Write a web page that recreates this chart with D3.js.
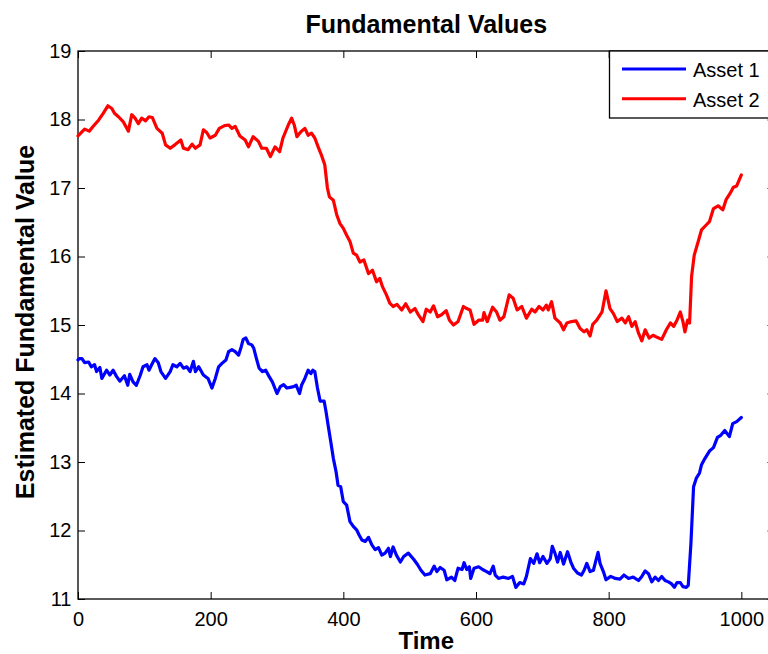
<!DOCTYPE html>
<html>
<head>
<meta charset="utf-8">
<script src="https://cdn.jsdelivr.net/npm/d3@7"></script>
<style>
  html, body { margin: 0; padding: 0; background: #fff; }
  svg { display: block; font-family: "Liberation Sans", Arial, Helvetica, sans-serif; }
</style>
</head>
<body>
<svg id="chart" width="768" height="654"></svg>
<script>
// ---- data ----
const chartTitle = "Fundamental Values";
const xLabel = "Time";
const yLabel = "Estimated Fundamental Value";
const seriesNames = ["Asset 1", "Asset 2"];
const xTicks = [0, 200, 400, 600, 800, 1000];
const yTicks = [11, 12, 13, 14, 15, 16, 17, 18, 19];

const asset1Time = [0,2,6,10,16,20,25,28,33,36,43,48,53,58,63,70,75,78,83,88,94,98,104,107,111,116,121,125,132,139,143,149,154,159,164,169,174,177,182,189,196,202,207,212,217,223,227,232,237,242,246,249,253,257,262,265,269,273,278,283,288,293,300,305,310,315,320,325,329,334,337,342,347,351,354,357,361,365,371,374,377,381,385,389,392,396,400,405,410,415,420,424,428,433,438,443,448,453,458,463,468,471,475,480,486,491,498,506,512,517,523,531,537,541,546,552,556,563,568,573,579,582,586,590,592,597,604,610,616,621,626,629,634,641,649,655,660,666,672,676,682,687,692,696,701,707,712,715,719,723,727,732,738,743,747,753,759,763,767,772,777,781,784,787,792,796,803,810,817,823,830,837,845,850,855,860,865,870,875,880,885,890,895,899,903,908,912,917,920,924,928,932,937,940,945,952,958,964,969,975,982,987,993,1000];
const asset1 = [14.49,14.51,14.51,14.45,14.46,14.39,14.42,14.32,14.38,14.22,14.34,14.27,14.34,14.25,14.18,14.26,14.12,14.28,14.17,14.12,14.27,14.39,14.42,14.34,14.42,14.51,14.45,14.32,14.22,14.32,14.42,14.39,14.44,14.37,14.39,14.32,14.47,14.32,14.39,14.27,14.22,14.08,14.22,14.39,14.44,14.49,14.61,14.64,14.61,14.56,14.68,14.79,14.81,14.73,14.71,14.66,14.51,14.37,14.32,14.34,14.25,14.17,14.00,14.10,14.13,14.08,14.09,14.10,14.12,14.00,14.12,14.22,14.34,14.29,14.34,14.32,14.08,13.89,13.89,13.73,13.54,13.30,13.05,12.86,12.66,12.64,12.42,12.37,12.13,12.06,12.01,11.93,11.86,11.84,11.90,11.79,11.72,11.75,11.64,11.67,11.74,11.62,11.76,11.64,11.54,11.62,11.67,11.58,11.50,11.42,11.35,11.37,11.48,11.40,11.46,11.42,11.28,11.32,11.27,11.45,11.43,11.53,11.43,11.47,11.30,11.45,11.47,11.43,11.40,11.37,11.48,11.35,11.30,11.32,11.30,11.33,11.17,11.24,11.22,11.33,11.59,11.52,11.66,11.53,11.62,11.52,11.59,11.77,11.67,11.54,11.68,11.51,11.69,11.54,11.45,11.38,11.35,11.42,11.52,11.40,11.42,11.57,11.68,11.52,11.40,11.28,11.33,11.30,11.29,11.35,11.30,11.32,11.27,11.33,11.41,11.37,11.25,11.32,11.27,11.33,11.27,11.25,11.22,11.17,11.24,11.24,11.18,11.17,11.20,11.81,12.64,12.76,12.84,12.96,13.05,13.16,13.21,13.36,13.39,13.46,13.37,13.56,13.59,13.65];

const asset2Time = [0,10,17,23,31,38,45,51,55,61,68,76,81,86,91,96,102,107,112,119,127,132,139,146,155,159,166,172,177,184,189,194,199,207,213,221,227,232,237,244,252,257,264,272,277,284,290,297,304,309,317,322,326,330,336,342,347,352,357,362,367,372,376,379,385,390,395,400,405,410,415,420,425,431,438,444,450,455,459,465,470,475,481,488,494,501,508,513,520,525,531,536,542,548,555,560,566,573,581,586,591,597,604,610,612,617,625,631,636,642,650,656,662,669,676,684,689,695,701,706,709,714,719,727,732,737,744,751,757,763,767,772,776,782,790,796,802,807,813,820,825,830,835,840,845,850,855,861,867,873,880,887,893,898,903,908,912,915,919,922,925,929,935,940,947,952,958,965,972,977,983,988,993,1000];
const asset2 = [17.76,17.86,17.83,17.90,17.99,18.09,18.20,18.16,18.09,18.04,17.97,17.83,18.07,18.02,17.94,18.02,17.98,18.04,18.03,17.87,17.80,17.63,17.58,17.63,17.70,17.58,17.56,17.64,17.58,17.63,17.85,17.81,17.73,17.77,17.87,17.91,17.92,17.87,17.90,17.76,17.70,17.60,17.75,17.68,17.58,17.58,17.46,17.60,17.53,17.73,17.92,18.02,17.92,17.75,17.82,17.87,17.77,17.80,17.73,17.60,17.48,17.34,17.00,16.87,16.82,16.61,16.48,16.41,16.31,16.22,16.05,16.02,15.92,15.95,15.75,15.80,15.63,15.68,15.56,15.44,15.32,15.27,15.30,15.22,15.31,15.19,15.24,15.15,15.05,15.23,15.19,15.28,15.12,15.15,15.21,15.07,15.00,15.05,15.27,15.24,15.22,15.01,15.07,15.07,15.18,15.05,15.26,15.19,15.07,15.12,15.44,15.39,15.22,15.27,15.10,15.23,15.19,15.27,15.22,15.29,15.22,15.34,15.10,15.03,14.93,15.03,15.05,15.06,14.95,14.90,14.93,14.84,15.01,15.07,15.19,15.50,15.24,15.17,15.05,15.10,15.03,15.12,14.98,15.05,14.88,14.77,14.93,14.81,14.85,14.82,14.79,14.93,15.03,14.98,15.07,15.19,15.05,14.90,15.07,15.03,15.71,16.02,16.22,16.39,16.46,16.51,16.70,16.74,16.68,16.83,16.92,17.01,17.03,17.19];

const seriesColors = ["#0000ff", "#ff0000"];

// ---- layout ----
const svg = d3.select("#chart");
const mLeft = 78, mRight = 774.5, mTop = 51, mBottom = 599;

const x = d3.scaleLinear().domain([0, 1050]).range([mLeft, mRight]);
const y = d3.scaleLinear().domain([11, 19]).range([mBottom, mTop]);

const fontTick = "20px";

// axes (ticks pointing inward, MATLAB style)
const gB = svg.append("g").attr("transform", `translate(0,${mBottom})`)
  .call(d3.axisBottom(x).tickValues(xTicks).tickSize(-7).tickSizeOuter(0).tickPadding(13).tickFormat(d3.format("d")));
const gT = svg.append("g").attr("transform", `translate(0,${mTop})`)
  .call(d3.axisTop(x).tickValues(xTicks).tickSize(-7).tickSizeOuter(0).tickFormat(""));
const gL = svg.append("g").attr("transform", `translate(${mLeft},0)`)
  .call(d3.axisLeft(y).tickValues(yTicks).tickSize(-7).tickSizeOuter(0).tickPadding(6.5).tickFormat(d3.format("d")));
const gR = svg.append("g").attr("transform", `translate(${mRight},0)`)
  .call(d3.axisRight(y).tickValues(yTicks).tickSize(-7).tickSizeOuter(0).tickFormat(""));

[gB, gT, gL, gR].forEach(g => {
  g.select(".domain").remove();
  g.selectAll(".tick line").attr("stroke", "#000").attr("stroke-width", 1);
  g.selectAll(".tick text").attr("fill", "#000").style("font-size", fontTick)
    .style("font-family", '"Liberation Sans", Arial, sans-serif');
});

// box
svg.append("rect")
  .attr("x", mLeft).attr("y", mTop)
  .attr("width", mRight - mLeft).attr("height", mBottom - mTop)
  .attr("fill", "none").attr("stroke", "#000").attr("stroke-width", 1.3);

// lines
const n1 = Math.min(asset1Time.length, asset1.length);
const n2 = Math.min(asset2Time.length, asset2.length);
const series = [
  d3.range(n1).map(i => [asset1Time[i], asset1[i]]),
  d3.range(n2).map(i => [asset2Time[i], asset2[i]])
];
const line = d3.line().x(d => x(d[0])).y(d => y(d[1]));
series.forEach((s, i) => {
  svg.append("path")
    .datum(s)
    .attr("d", line)
    .attr("fill", "none")
    .attr("stroke", seriesColors[i])
    .attr("stroke-width", 3.2)
    .attr("stroke-linejoin", "round")
    .attr("stroke-linecap", "round");
});

// legend
const lg = svg.append("g");
lg.append("rect")
  .attr("x", 609.5).attr("y", mTop)
  .attr("width", mRight - 609.5).attr("height", 67)
  .attr("fill", "#fff").attr("stroke", "#000").attr("stroke-width", 1.3);
seriesNames.forEach((name, i) => {
  const ly = 69 + i * 29.7;
  lg.append("line")
    .attr("x1", 622).attr("x2", 686)
    .attr("y1", ly).attr("y2", ly)
    .attr("stroke", seriesColors[i]).attr("stroke-width", 3);
  lg.append("text")
    .attr("x", 693).attr("y", ly + 8)
    .style("font-size", "20px").attr("fill", "#000")
    .text(name);
});

// title and labels
svg.append("text")
  .attr("x", (mLeft + mRight) / 2).attr("y", 33)
  .attr("text-anchor", "middle")
  .style("font-size", "25px").style("font-weight", "bold")
  .text(chartTitle);

svg.append("text")
  .attr("x", (mLeft + mRight) / 2).attr("y", 649)
  .attr("text-anchor", "middle")
  .style("font-size", "24px").style("font-weight", "bold")
  .text(xLabel);

svg.append("text")
  .attr("transform", `translate(33.5,${(mTop + mBottom) / 2 - 3}) rotate(-90)`)
  .attr("text-anchor", "middle")
  .style("font-size", "25px").style("font-weight", "bold")
  .text(yLabel);
</script>
</body>
</html>
